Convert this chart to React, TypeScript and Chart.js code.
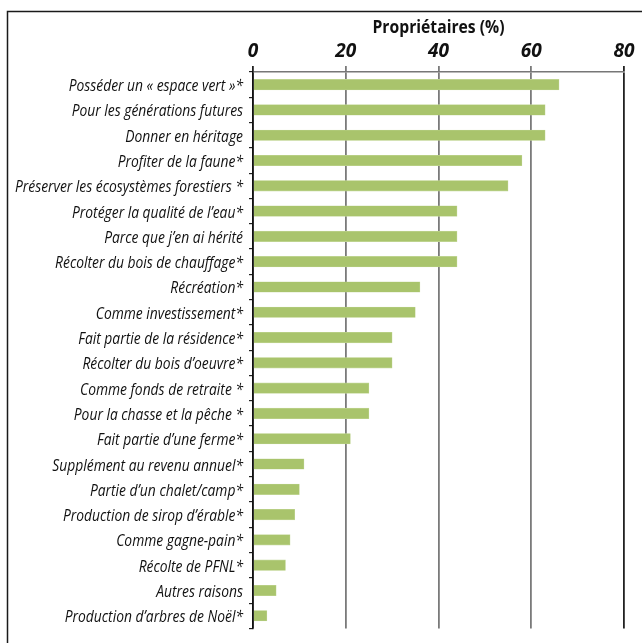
import React, { useEffect, useRef } from "react";
import { Chart, registerables } from "chart.js";

Chart.register(...registerables);

const categories: string[] = [
  "Posséder un « espace vert »*",
  "Pour les générations futures",
  "Donner en héritage",
  "Profiter de la faune*",
  "Préserver les écosystèmes forestiers *",
  "Protéger la qualité de l’eau*",
  "Parce que j’en ai hérité",
  "Récolter du bois de chauffage*",
  "Récréation*",
  "Comme investissement*",
  "Fait partie de la résidence*",
  "Récolter du bois d’oeuvre*",
  "Comme fonds de retraite *",
  "Pour la chasse et la pêche *",
  "Fait partie d’une ferme*",
  "Supplément au revenu annuel*",
  "Partie d’un chalet/camp*",
  "Production de sirop d’érable*",
  "Comme gagne-pain*",
  "Récolte de PFNL*",
  "Autres raisons",
  "Production d’arbres de Noël*",
];

const proprietaires: number[] = [66, 63, 63, 58, 55, 44, 44, 44, 36, 35, 30, 30, 25, 25, 21, 11, 10, 9, 8, 7, 5, 3];

const xTicks: number[] = [0, 20, 40, 60, 80];
const axisTitle = "Propriétaires (%)";

const FONT = "'Open Sans', 'Liberation Sans', sans-serif";

// draws text compressed horizontally (condensed look)
function condensedText(ctx: any, text: string, x: number, y: number, sx: number, align: string) {
  ctx.save();
  ctx.translate(x, y);
  ctx.scale(sx, 1);
  ctx.textAlign = align;
  ctx.fillText(text, 0, 0);
  ctx.restore();
}

const textPlugin = {
  id: "condensedText",
  beforeDraw(chart: any) {
    const ctx = chart.ctx;
    ctx.save();
    ctx.strokeStyle = "#1a1a1a";
    ctx.lineWidth = 1.5;
    ctx.beginPath();
    ctx.moveTo(7.5, chart.height + 5);
    ctx.lineTo(7.5, 11.5);
    ctx.lineTo(chart.width + 5, 11.5);
    ctx.stroke();
    ctx.restore();
  },
  afterDraw(chart: any) {
    const ctx = chart.ctx;
    const xs = chart.scales.x;
    const ys = chart.scales.y;
    ctx.save();
    ctx.fillStyle = "#111";
    ctx.textBaseline = "alphabetic";

    // title
    ctx.font = `bold 18px ${FONT}`;
    const tw = ctx.measureText(axisTitle).width;
    const tsx = 132 / tw;
    condensedText(ctx, axisTitle, (xs.left + xs.right) / 2, 33, tsx, "center");

    // x tick labels
    ctx.font = `italic bold 20px ${FONT}`;
    const w80 = ctx.measureText("80").width;
    const ksx = 21 / w80;
    xTicks.forEach((v) => {
      condensedText(ctx, String(v), xs.getPixelForValue(v), 57, ksx, "center");
    });

    // y category labels
    ctx.font = `italic 16px ${FONT}`;
    let maxW = 0;
    categories.forEach((c) => {
      maxW = Math.max(maxW, ctx.measureText(c).width);
    });
    const ysx = 228 / maxW;
    categories.forEach((c, i) => {
      condensedText(ctx, c, ys.right - 10, ys.getPixelForValue(i) + 6.5, ysx, "right");
    });
    ctx.restore();
  },
};

export default function App() {
  const ref = useRef<HTMLCanvasElement | null>(null);

  useEffect(() => {
    document.body.style.margin = "0";
    const canvas = ref.current;
    if (!canvas) return;
    const chart = new Chart(canvas, {
      type: "bar",
      data: {
        labels: categories,
        datasets: [
          {
            label: axisTitle,
            data: proprietaires,
            backgroundColor: "#A9C46C",
            borderColor: "#C4D89A",
            borderWidth: 0.6,
            barThickness: 10.5,
          },
        ],
      },
      plugins: [textPlugin],
      options: {
        indexAxis: "y",
        animation: false,
        responsive: false,
        maintainAspectRatio: false,
        layout: { padding: { left: 0, right: 18, top: 0, bottom: 14 } },
        plugins: {
          legend: { display: false },
          tooltip: { enabled: false },
        },
        scales: {
          x: {
            position: "top",
            min: 0,
            max: 80,
            afterBuildTicks: (scale: any) => {
              scale.ticks = xTicks.map((v) => ({ value: v }));
            },
            afterFit: (scale: any) => {
              scale.height = 72;
            },
            title: { display: false, text: axisTitle },
            ticks: {
              display: true,
              color: "rgba(0,0,0,0)",
              font: { family: FONT, size: 20, weight: "bold", style: "italic" },
              padding: 3,
            },
            grid: {
              color: (c: any) =>
                c.tick && (c.tick.value === 80 || c.tick.value === 0) ? "#222" : "#7a7a7a",
              lineWidth: 1.8,
              tickLength: 6,
              drawTicks: true,
            },
            border: { display: true, color: "#777", width: 1.5 },
          },
          y: {
            afterFit: (scale: any) => {
              scale.width = 253;
            },
            ticks: {
              color: "rgba(0,0,0,0)",
              font: { family: FONT, size: 16, style: "italic" },
              padding: 5,
              autoSkip: false,
            },
            grid: {
              offset: true,
              drawOnChartArea: false,
              tickLength: 4,
              color: "#222",
              lineWidth: 1.2,
            },
            border: { display: true, color: "#111", width: 1.5 },
          },
        },
      },
    } as any);
    return () => chart.destroy();
  }, []);

  return (
    <div style={{ width: 642, height: 643 }}>
      <canvas ref={ref} width={642} height={643} style={{ display: "block", width: 642, height: 643 }} />
    </div>
  );
}
